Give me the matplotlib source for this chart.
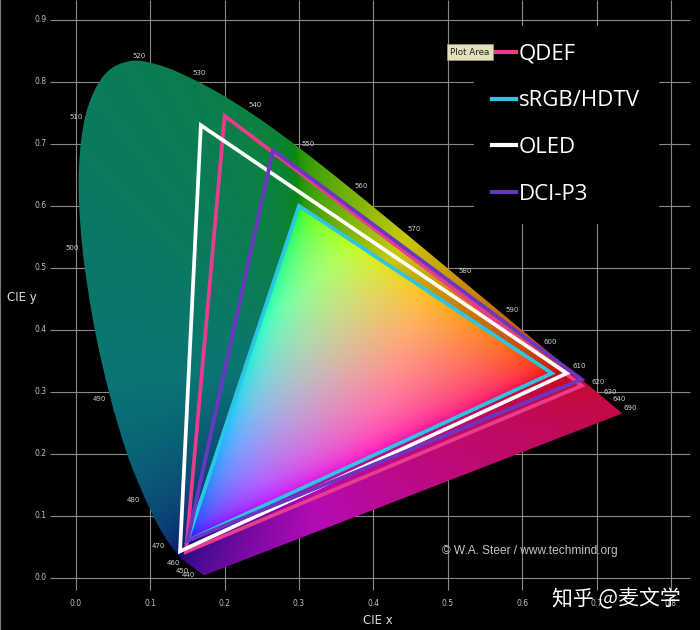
import numpy as np
import matplotlib
matplotlib.use('Agg')
import matplotlib.pyplot as plt
from matplotlib.patches import Polygon, PathPatch
from matplotlib.path import Path
from matplotlib.lines import Line2D

# CIE 1931 2-degree spectral locus, 5 nm steps
wavelengths = list(range(380, 705, 5))
locus_x = [0.1741, 0.1740, 0.1738, 0.1736, 0.1733, 0.1730, 0.1726, 0.1721, 0.1714, 0.1703,
           0.1689, 0.1669, 0.1644, 0.1611, 0.1566, 0.1510, 0.1440, 0.1355, 0.1241, 0.1096,
           0.0913, 0.0687, 0.0454, 0.0235, 0.0082, 0.0039, 0.0139, 0.0389, 0.0743, 0.1142,
           0.1547, 0.1929, 0.2296, 0.2658, 0.3016, 0.3373, 0.3731, 0.4087, 0.4441, 0.4788,
           0.5125, 0.5448, 0.5752, 0.6029, 0.6270, 0.6482, 0.6658, 0.6801, 0.6915, 0.7006,
           0.7079, 0.7140, 0.7190, 0.7230, 0.7260, 0.7283, 0.7300, 0.7311, 0.7320, 0.7327,
           0.7334, 0.7340, 0.7344, 0.7346, 0.7347]
locus_y = [0.0050, 0.0050, 0.0049, 0.0049, 0.0048, 0.0048, 0.0048, 0.0048, 0.0051, 0.0058,
           0.0069, 0.0086, 0.0109, 0.0138, 0.0177, 0.0227, 0.0297, 0.0399, 0.0578, 0.0868,
           0.1327, 0.2007, 0.2950, 0.4127, 0.5384, 0.6548, 0.7502, 0.8120, 0.8338, 0.8262,
           0.8059, 0.7816, 0.7543, 0.7243, 0.6923, 0.6589, 0.6245, 0.5896, 0.5547, 0.5202,
           0.4866, 0.4544, 0.4242, 0.3965, 0.3725, 0.3514, 0.3340, 0.3197, 0.3083, 0.2993,
           0.2920, 0.2859, 0.2809, 0.2770, 0.2740, 0.2717, 0.2700, 0.2689, 0.2680, 0.2673,
           0.2666, 0.2660, 0.2656, 0.2654, 0.2653]

label_wavelengths = [440, 450, 460, 470, 480, 490, 500, 510, 520, 530, 540, 550, 560,
                     570, 580, 590, 600, 610, 620, 630, 640, 690]

# gamut triangles (red, green, blue primaries)
gamut_names = ['QDEF', 'sRGB/HDTV', 'OLED', 'DCI-P3']
qdef_xy = [(0.68, 0.31), (0.20, 0.745), (0.148, 0.042)]
srgb_xy = [(0.64, 0.33), (0.30, 0.60), (0.15, 0.06)]
oled_xy = [(0.66, 0.33), (0.168, 0.73), (0.14, 0.043)]
dcip3_xy = [(0.68, 0.32), (0.265, 0.69), (0.15, 0.06)]
gamut_colors = ['#ea3c8c', '#2cc6e4', '#ffffff', '#6a36c2']

x_ticks = [0.0, 0.1, 0.2, 0.3, 0.4, 0.5, 0.6, 0.7, 0.8]
y_ticks = [0.0, 0.1, 0.2, 0.3, 0.4, 0.5, 0.6, 0.7, 0.8, 0.9]

fig = plt.figure(figsize=(7, 6.3), dpi=100, facecolor='black')
ax = fig.add_axes([0, 0, 1, 1], facecolor='black')
ax.set_xlim(-0.102, 0.839)
ax.set_ylim(-0.084, 0.932)
ax.set_xticks([])
ax.set_yticks([])
for s in ['top', 'right', 'bottom']:
    ax.spines[s].set_visible(False)
ax.spines['left'].set_color('#777777')
ax.spines['left'].set_linewidth(1.5)

# grid
grid_c = '#8a8a8a'
ax.hlines(y_ticks, -0.035, 0.825, color=grid_c, lw=0.8, zorder=1)
ax.vlines(x_ticks, -0.02, 0.932, color=grid_c, lw=0.8, zorder=1)
for t in x_ticks:
    ax.text(t, -0.042, '%.1f' % t, color='#c0c0c0', fontsize=5.5, ha='center', va='center')
for t in y_ticks:
    ax.text(-0.047, t, '%.1f' % t, color='#c0c0c0', fontsize=5.5, ha='center', va='center')
ax.text(-0.073, 0.452, 'CIE y', color='#dddddd', fontsize=8.5, ha='center', va='center')
ax.text(0.406, -0.069, 'CIE x', color='#dddddd', fontsize=8.5, ha='center', va='center')

# colour fill of the horseshoe
xs = np.linspace(0.0, 0.75, 600)
ys = np.linspace(0.001, 0.85, 600)
xx, yy = np.meshgrid(xs, ys)
XYZ = np.stack([xx / yy, np.ones_like(xx), (1 - xx - yy) / yy], axis=-1)
M = np.array([[3.2406, -1.5372, -0.4986],
              [-0.9689, 1.8758, 0.0415],
              [0.0557, -0.2040, 1.0570]])
rgb = XYZ @ M.T
mn = rgb.min(axis=-1, keepdims=True)
out = (mn < 0)[..., 0]


def gamma(c):
    return np.where(c <= 0.0031308, 12.92 * c, 1.055 * np.clip(c, 0, None) ** (1 / 2.4) - 0.055)


# inside sRGB: normalise by sum (smooth), outside: desaturate then normalise by max, darker
sm = rgb.sum(axis=-1, keepdims=True)
sm[sm == 0] = 1
inside = gamma(np.clip(1.55 * rgb / sm, 0, 1))
desat = rgb - np.minimum(mn, 0)
mx = desat.max(axis=-1, keepdims=True)
mx[mx == 0] = 1
outside = gamma(desat / mx)
outside = outside * (0.5 + 0.25 * outside[..., :1] - 0.08 * outside[..., 2:])
outside = outside + 0.04
img = np.where(out[..., None], outside, inside)
img = np.clip(img, 0, 1)

im = ax.imshow(img, extent=[0.0, 0.75, 0.001, 0.85], origin='lower',
               interpolation='bilinear', aspect='auto', zorder=2)

# smooth outline through the locus points (Catmull-Rom as cubic Bezier)
pts = np.column_stack([locus_x, locus_y])
ext = np.vstack([pts[0], pts, pts[-1]])
verts = [pts[0]]
codes = [Path.MOVETO]
for i in range(1, len(ext) - 2):
    p0, p1, p2, p3 = ext[i - 1], ext[i], ext[i + 1], ext[i + 2]
    verts += [p1 + (p2 - p0) / 6, p2 - (p3 - p1) / 6, p2]
    codes += [Path.CURVE4] * 3
verts += [pts[0], pts[0]]
codes += [Path.LINETO, Path.CLOSEPOLY]
horseshoe = PathPatch(Path(verts, codes), facecolor='none', edgecolor='none',
                      transform=ax.transData)
ax.add_patch(horseshoe)
im.set_clip_path(horseshoe)

# wavelength labels
for wl in label_wavelengths:
    i = wavelengths.index(wl)
    off = (-10, -4) if wl <= 510 else (8, 5)
    ax.annotate(str(wl), (locus_x[i], locus_y[i]), xytext=off, textcoords='offset pixels',
                color='#d0d0d0', fontsize=5, ha='center', va='center', zorder=3)

# gamut triangles
gamuts = [qdef_xy, srgb_xy, oled_xy, dcip3_xy]
draw_order = [3, 0, 1, 2]
for k in draw_order:
    ax.add_patch(Polygon(gamuts[k], closed=True, fill=False, edgecolor=gamut_colors[k],
                         lw=2.7, joinstyle='miter', zorder=4 + k))

handles = [Line2D([], [], color=c, lw=3) for c in gamut_colors]
leg = ax.legend(handles, gamut_names, loc='upper left', bbox_to_anchor=(0.677, 0.959),
                frameon=True, facecolor='black', edgecolor='black', framealpha=1,
                labelcolor='white', handlelength=1.1, handletextpad=0.12,
                labelspacing=1.16, borderpad=0.8, borderaxespad=0,
                prop={'family': 'Open Sans', 'size': 16})
leg.set_zorder(10)
ax.text(0.5296, 0.848, 'Plot Area', fontsize=6.3, color='#222222', ha='center', va='center',
        bbox=dict(boxstyle='square,pad=0.4', facecolor='#e4e0bc', edgecolor='#999988', lw=0.5),
        zorder=11)

ax.text(0.61, 0.0435, '\u00a9 W.A. Steer / www.techmind.org', color='#c4c4c4', fontsize=8.6,
        ha='center', va='center', family='Liberation Sans', zorder=5)
ax.text(0.727, -0.035, '知乎 @麦文学', color='white', fontsize=15, ha='center', va='center',
        family=['Noto Sans CJK SC', 'DejaVu Sans'], zorder=12)

fig.savefig('out.png', dpi=100, facecolor='black')
